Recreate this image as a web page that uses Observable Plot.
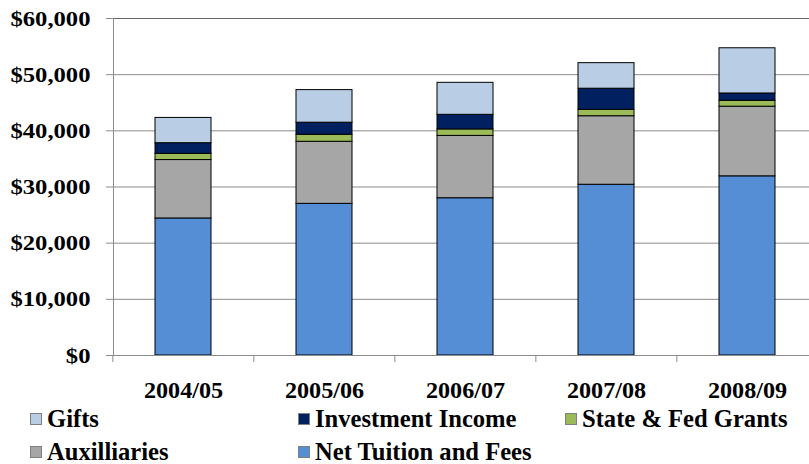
<!DOCTYPE html>
<html>
<head>
<meta charset="utf-8">
<script src="https://cdn.jsdelivr.net/npm/d3@7"></script>
<script src="https://cdn.jsdelivr.net/npm/@observablehq/plot@0.6"></script>
<style>
  html, body { margin: 0; padding: 0; background: #fff; }
  #wrap { position: relative; width: 809px; height: 464px; overflow: hidden; font-family: "Liberation Serif", "Times New Roman", serif; font-weight: bold; }
  #chart { position: absolute; left: 0; top: 0; }
  #legend { position: absolute; left: 0; top: 400px; width: 809px; height: 64px; }
  .item { position: absolute; display: flex; align-items: center; height: 26px; font-size: 24.6px; line-height: 26px; color: #000; white-space: nowrap; }
  .sw { width: 10px; height: 10px; border: 1px solid #7f7f7f; margin-right: 5px; flex: none; }
</style>
</head>
<body>
<div id="wrap"><div id="chart"></div><div id="legend"></div></div>
<script>
const years = ["2004/05", "2005/06", "2006/07", "2007/08", "2008/09"];
const tuition = [24400, 27000, 28000, 30400, 31900];
const auxiliaries = [10400, 11050, 11100, 12200, 12400];
const grants = [1100, 1250, 1150, 1150, 1050];
const investment = [1900, 2150, 2600, 3750, 1300];
const gifts = [4500, 5800, 5700, 4550, 8050];
const seriesNames = ["Net Tuition and Fees", "Auxilliaries", "State & Fed Grants", "Investment Income", "Gifts"];
const seriesValues = [tuition, auxiliaries, grants, investment, gifts];
const seriesColors = ["#558ed5", "#a6a6a6", "#9bbb59", "#002060", "#b9cde5"];
const yTicks = [0, 10000, 20000, 30000, 40000, 50000, 60000];

const data = [];
seriesNames.forEach((s, i) => years.forEach((y, j) => data.push({year: y, series: s, value: seriesValues[i][j]})));

const chart = Plot.plot({
  width: 809,
  height: 410,
  marginLeft: 113,
  marginRight: 0,
  marginTop: 18,
  marginBottom: 55,
  style: "font-family: 'Liberation Serif', 'Times New Roman', serif; font-weight: bold; font-size: 22px; color: #000; background: #fff; overflow: visible;",
  x: {domain: years, range: [112, 818.5], paddingInner: 0.6, paddingOuter: 0.3, label: null},
  y: {domain: [0, 60000], label: null},
  color: {domain: seriesNames, range: seriesColors},
  marks: [
    Plot.gridY(yTicks, {stroke: "#8c8c8c", strokeOpacity: 1}),
    Plot.ruleY([60000], {stroke: "#666"}),
    Plot.barY(data, Plot.stackY({x: "year", y: "value", fill: "series", order: seriesNames, stroke: "#000", strokeWidth: 1})),
    Plot.frame({anchor: "left", stroke: "#8c8c8c"}),
    Plot.frame({anchor: "bottom", stroke: "#8c8c8c"}),
    Plot.axisY(yTicks, {tickSize: 7, tickPadding: 16, stroke: "#8c8c8c", tickFormat: d => "$" + d3.format(",")(d), fill: "#000", fontSize: 22}),
    Plot.axisX({tickSize: 0, tickPadding: 26, fill: "#000", fontSize: 23}),
    Plot.axisX({tickSize: 7, tickFormat: () => "", dx: -70.65, stroke: "#8c8c8c"})
  ]
});
document.getElementById("chart").appendChild(chart);

// slight horizontal stretch of tick labels, as in the reference
chart.querySelectorAll('g[aria-label="y-axis tick label"] text').forEach(t => {
  t.setAttribute("transform", (t.getAttribute("transform") || "") + " scale(1.12,1)");
});
chart.querySelectorAll('g[aria-label="x-axis tick label"] text').forEach(t => {
  t.setAttribute("transform", (t.getAttribute("transform") || "") + " scale(1.05,1)");
});

const legendItems = [
  {name: "Gifts", left: 30, row: 0},
  {name: "Investment Income", left: 298, row: 0},
  {name: "State & Fed Grants", left: 565, row: 0},
  {name: "Auxilliaries", left: 30, row: 1},
  {name: "Net Tuition and Fees", left: 298, row: 1}
];
const rowCenters = [19, 52];
const legend = document.getElementById("legend");
legendItems.forEach(it => {
  const div = document.createElement("div");
  div.className = "item";
  div.style.left = it.left + "px";
  div.style.top = (rowCenters[it.row] - 13) + "px";
  const sw = document.createElement("span");
  sw.className = "sw";
  sw.style.background = seriesColors[seriesNames.indexOf(it.name)];
  const t = document.createElement("span");
  t.textContent = it.name;
  div.appendChild(sw);
  div.appendChild(t);
  legend.appendChild(div);
});
</script>
</body>
</html>
